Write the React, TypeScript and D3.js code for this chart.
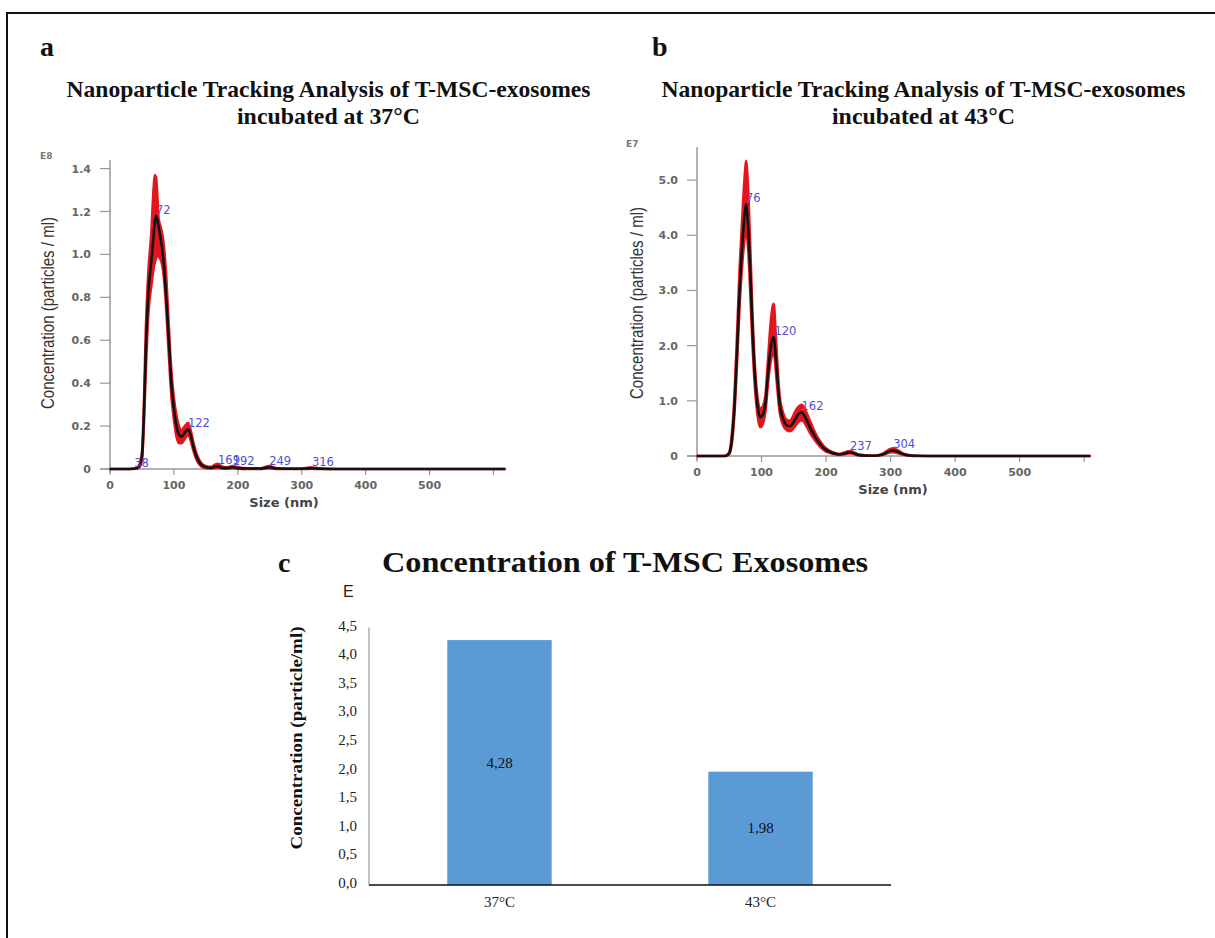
import React, { useEffect, useRef } from 'react';
import * as d3 from 'd3';

// panel a : 37°C  (values in E8 particles/ml)
const sizesA = [0, 30, 40, 45, 50, 53, 56, 60, 65, 68, 70, 72, 74, 76, 80, 84, 88, 92, 96, 100, 104, 108, 112, 117, 122, 126, 130, 135, 140, 148, 158, 164, 169, 175, 182, 192, 200, 215, 235, 249, 262, 290, 305, 316, 330, 360, 400, 618];
const meanA = [0, 0, 0.002, 0.01, 0.06, 0.25, 0.55, 0.82, 0.98, 1.08, 1.15, 1.18, 1.16, 1.13, 1.06, 0.96, 0.8, 0.6, 0.4, 0.28, 0.2, 0.16, 0.15, 0.17, 0.185, 0.16, 0.11, 0.06, 0.03, 0.01, 0.005, 0.01, 0.012, 0.006, 0.004, 0.008, 0.004, 0.002, 0.002, 0.008, 0.002, 0.001, 0.002, 0.004, 0.001, 0, 0, 0];
const upperA = [0, 0, 0.004, 0.015, 0.08, 0.3, 0.65, 0.92, 1.12, 1.3, 1.37, 1.36, 1.28, 1.17, 1.12, 1.05, 0.9, 0.67, 0.46, 0.33, 0.25, 0.2, 0.18, 0.2, 0.215, 0.185, 0.13, 0.075, 0.04, 0.016, 0.01, 0.02, 0.024, 0.012, 0.008, 0.014, 0.008, 0.004, 0.004, 0.014, 0.004, 0.002, 0.004, 0.007, 0.002, 0, 0, 0];
const lowerA = [0, 0, 0.001, 0.006, 0.04, 0.2, 0.45, 0.72, 0.86, 0.93, 0.96, 0.98, 1.0, 0.99, 0.97, 0.9, 0.74, 0.53, 0.34, 0.23, 0.15, 0.12, 0.12, 0.14, 0.16, 0.135, 0.09, 0.045, 0.02, 0.005, 0.002, 0.004, 0.005, 0.002, 0.001, 0.003, 0.001, 0, 0, 0.003, 0, 0, 0, 0.001, 0, 0, 0, 0];
const peaksA = [38, 72, 122, 169, 192, 249, 316];
const peakHeightsA = [0, 1.18, 0.185, 0.012, 0.008, 0.008, 0.004];
const yTicksA = [0, 0.2, 0.4, 0.6, 0.8, 1.0, 1.2, 1.4];

// panel b : 43°C  (values in E7 particles/ml)
const sizesB = [0, 40, 45, 50, 54, 58, 62, 66, 70, 74, 76, 79, 82, 86, 90, 94, 98, 102, 106, 110, 114, 117, 119, 122, 125, 128, 132, 136, 140, 144, 148, 152, 156, 160, 162, 166, 170, 175, 180, 185, 190, 195, 200, 205, 210, 215, 220, 225, 230, 237, 243, 250, 260, 270, 280, 288, 295, 300, 304, 310, 316, 322, 330, 340, 360, 400, 500, 609];
const meanB = [0, 0, 0.005, 0.05, 0.3, 0.9, 1.9, 3.0, 3.8, 4.4, 4.56, 4.2, 3.5, 2.3, 1.4, 0.9, 0.7, 0.75, 0.95, 1.5, 1.95, 2.12, 2.15, 1.8, 1.35, 0.95, 0.72, 0.6, 0.55, 0.54, 0.58, 0.66, 0.74, 0.78, 0.79, 0.74, 0.65, 0.52, 0.41, 0.31, 0.23, 0.16, 0.11, 0.08, 0.055, 0.04, 0.03, 0.035, 0.05, 0.07, 0.05, 0.02, 0.008, 0.005, 0.01, 0.03, 0.07, 0.095, 0.1, 0.08, 0.05, 0.025, 0.01, 0.004, 0.001, 0, 0, 0];
const upperB = [0, 0, 0.01, 0.07, 0.4, 1.1, 2.2, 3.4, 4.3, 5.1, 5.35, 4.9, 4.0, 2.6, 1.6, 1.05, 0.85, 0.9, 1.1, 1.75, 2.4, 2.7, 2.76, 2.2, 1.6, 1.1, 0.84, 0.7, 0.65, 0.64, 0.7, 0.8, 0.88, 0.92, 0.93, 0.88, 0.78, 0.64, 0.5, 0.38, 0.28, 0.2, 0.14, 0.1, 0.07, 0.05, 0.04, 0.05, 0.07, 0.09, 0.07, 0.03, 0.012, 0.008, 0.015, 0.045, 0.1, 0.13, 0.14, 0.11, 0.07, 0.035, 0.015, 0.006, 0.002, 0, 0, 0];
const lowerB = [0, 0, 0.002, 0.035, 0.22, 0.75, 1.65, 2.7, 3.45, 3.95, 4.05, 3.8, 3.1, 2.0, 1.2, 0.72, 0.52, 0.58, 0.8, 1.3, 1.7, 1.85, 1.88, 1.55, 1.15, 0.8, 0.6, 0.5, 0.46, 0.45, 0.48, 0.54, 0.6, 0.64, 0.65, 0.61, 0.53, 0.42, 0.33, 0.25, 0.18, 0.12, 0.08, 0.06, 0.04, 0.03, 0.02, 0.025, 0.035, 0.05, 0.035, 0.012, 0.005, 0.003, 0.006, 0.02, 0.05, 0.07, 0.07, 0.055, 0.035, 0.017, 0.006, 0.002, 0, 0, 0, 0];
const peaksB = [76, 120, 162, 237, 304];
const peakHeightsB = [4.56, 2.15, 0.79, 0.07, 0.1];
const yTicksB = [0, 1, 2, 3, 4, 5];

const xTicksNTA = [0, 100, 200, 300, 400, 500, 600];

// panel c
const barCategories = ['37°C', '43°C'];
const barValues = [4.28, 1.98];
const barTicks = [0, 0.5, 1, 1.5, 2, 2.5, 3, 3.5, 4, 4.5];

const commaFmt = (v: number, digits: number) => v.toFixed(digits).replace('.', ',');

type Panel = {
  left: number; bottom: number; width: number; height: number;
  xMax: number; yMax: number;
  sizes: number[]; mean: number[]; upper: number[]; lower: number[];
  peaks: number[]; peakHeights: number[]; yTicks: number[];
  exp: string; expX: number; expY: number;
  xTitleX: number; yTitleX: number; yTitleY: number;
};

function drawNTA(svg: d3.Selection<SVGSVGElement, unknown, null, undefined>, p: Panel) {
  const x = d3.scaleLinear().domain([0, p.xMax]).range([p.left, p.left + p.width]);
  const y = d3.scaleLinear().domain([0, p.yMax]).range([p.bottom, p.bottom - p.height]);
  const g = svg.append('g');
  const axisColor = '#9a9a9a';

  // axes
  g.append('line').attr('x1', p.left - 10).attr('x2', p.left + p.width)
    .attr('y1', p.bottom).attr('y2', p.bottom).attr('stroke', axisColor).attr('stroke-width', 1.5);
  g.append('line').attr('x1', p.left).attr('x2', p.left)
    .attr('y1', p.bottom - p.height).attr('y2', p.bottom + 4).attr('stroke', axisColor).attr('stroke-width', 1.5);

  g.selectAll('line.yt').data(p.yTicks).join('line')
    .attr('x1', p.left - 10).attr('x2', p.left)
    .attr('y1', d => y(d)).attr('y2', d => y(d))
    .attr('stroke', axisColor).attr('stroke-width', 1.2);
  g.selectAll('line.xt').data(xTicksNTA).join('line')
    .attr('x1', d => x(d)).attr('x2', d => x(d))
    .attr('y1', p.bottom).attr('y2', p.bottom + 6)
    .attr('stroke', axisColor).attr('stroke-width', 1.2);

  g.selectAll('text.yl').data(p.yTicks).join('text')
    .attr('x', p.left - 19).attr('y', d => y(d) + 4)
    .attr('text-anchor', 'end')
    .style('font-family', 'DejaVu Sans').style('font-size', '11px').style('font-weight', 'bold')
    .attr('fill', '#666')
    .text(d => (d === 0 ? '0' : d.toFixed(1)));
  g.selectAll('text.xl').data(xTicksNTA.slice(0, 6)).join('text')
    .attr('x', d => x(d)).attr('y', p.bottom + 20)
    .attr('text-anchor', 'middle')
    .style('font-family', 'DejaVu Sans').style('font-size', '11px').style('font-weight', 'bold')
    .attr('fill', '#666')
    .text(d => String(d));

  // band + mean
  const pts = p.sizes.map((s, i) => ({ s, m: p.mean[i], u: p.upper[i], l: p.lower[i] }));
  const band = d3.area<any>().x(d => x(d.s)).y0(d => y(d.l)).y1(d => y(d.u)).curve(d3.curveMonotoneX);
  g.append('path').attr('d', band(pts)!).attr('fill', '#e3161d')
    .attr('stroke', '#e3161d').attr('stroke-width', 2.5).attr('stroke-linejoin', 'round');
  const line = d3.line<any>().x(d => x(d.s)).y(d => y(d.m)).curve(d3.curveMonotoneX);
  g.append('path').attr('d', line(pts)!).attr('fill', 'none')
    .attr('stroke', '#111').attr('stroke-width', 2.6).attr('stroke-linejoin', 'round');

  // peak labels
  g.selectAll('text.pk').data(p.peaks).join('text')
    .attr('x', d => x(d)).attr('y', (d, i) => y(p.peakHeights[i]) - 2)
    .style('font-family', 'DejaVu Sans').style('font-size', '11.5px')
    .attr('fill', '#5050d0')
    .text(d => String(d));

  // labels
  g.append('text').attr('x', p.expX).attr('y', p.expY)
    .style('font-family', 'DejaVu Sans').style('font-size', '9px').style('font-weight', 'bold')
    .attr('fill', '#777').text(p.exp);
  g.append('text').attr('x', p.xTitleX).attr('y', p.bottom + 38)
    .attr('text-anchor', 'middle')
    .style('font-family', 'DejaVu Sans').style('font-size', '13px').style('font-weight', 'bold')
    .attr('fill', '#444').text('Size (nm)');
  g.append('text')
    .attr('transform', `translate(${p.yTitleX},${p.yTitleY}) rotate(-90)`)
    .attr('text-anchor', 'middle').attr('dy', 6)
    .attr('textLength', 192).attr('lengthAdjust', 'spacingAndGlyphs')
    .style('font-family', 'Liberation Sans').style('font-size', '19px')
    .attr('fill', '#333').text('Concentration (particles / ml)');
}

const App: React.FC = () => {
  const svgRef = useRef<SVGSVGElement>(null);

  useEffect(() => {
    document.body.style.margin = '0';
    const svg = d3.select(svgRef.current!);
    svg.selectAll('*').remove();

    const serif = 'Liberation Serif';

    // frame (top + left)
    svg.append('path').attr('d', 'M7,938 V13 H1215').attr('fill', 'none')
      .attr('stroke', '#111').attr('stroke-width', 2);

    // panel letters + titles
    const heading = (txt: string, x: number, yy: number, size: number, anchor = 'start', len?: number) => {
      const t = svg.append('text').attr('x', x).attr('y', yy).attr('text-anchor', anchor)
        .style('font-family', serif).style('font-weight', 'bold').style('font-size', `${size}px`)
        .attr('fill', '#111').text(txt);
      if (len) t.attr('textLength', len).attr('lengthAdjust', 'spacingAndGlyphs');
    };
    heading('a', 40, 56, 28);
    heading('b', 652, 56, 28);
    heading('Nanoparticle Tracking Analysis of T-MSC-exosomes', 328.5, 97, 23.5, 'middle', 524);
    heading('incubated at 37°C', 328.5, 124, 23.5, 'middle', 183);
    heading('Nanoparticle Tracking Analysis of T-MSC-exosomes', 923.5, 97, 23.5, 'middle', 524);
    heading('incubated at 43°C', 923.5, 124, 23.5, 'middle', 183);

    drawNTA(svg as any, {
      left: 110, bottom: 469, width: 395, height: 309, xMax: 618, yMax: 1.44,
      sizes: sizesA, mean: meanA, upper: upperA, lower: lowerA,
      peaks: peaksA, peakHeights: peakHeightsA, yTicks: yTicksA,
      exp: 'E8', expX: 40, expY: 159, xTitleX: 284, yTitleX: 48, yTitleY: 313,
    });
    drawNTA(svg as any, {
      left: 697, bottom: 456, width: 393, height: 309, xMax: 609, yMax: 5.6,
      sizes: sizesB, mean: meanB, upper: upperB, lower: lowerB,
      peaks: peaksB, peakHeights: peakHeightsB, yTicks: yTicksB,
      exp: 'E7', expX: 626, expY: 147, xTitleX: 893, yTitleX: 637, yTitleY: 303,
    });

    // panel c - bar chart
    heading('c', 278, 572, 28);
    heading('Concentration of T-MSC Exosomes', 625, 572, 30, 'middle', 486);
    svg.append('text').attr('x', 343).attr('y', 597)
      .style('font-family', 'Liberation Sans').style('font-size', '16px')
      .attr('fill', '#222').text('E');

    const xb = d3.scaleBand().domain(barCategories).range([369, 891]).paddingInner(0.6).paddingOuter(0.3);
    const yb = d3.scaleLinear().domain([0, 4.5]).range([885, 627.5]);
    const gc = svg.append('g');

    gc.selectAll('rect').data(barValues).join('rect')
      .attr('x', (d, i) => xb(barCategories[i])!)
      .attr('y', d => yb(d))
      .attr('width', xb.bandwidth())
      .attr('height', d => yb(0) - yb(d))
      .attr('fill', '#5b9bd5');

    gc.append('line').attr('x1', 369).attr('x2', 369).attr('y1', yb(4.5)).attr('y2', yb(0))
      .attr('stroke', '#888').attr('stroke-width', 1);
    gc.append('line').attr('x1', 369).attr('x2', 891).attr('y1', yb(0)).attr('y2', yb(0))
      .attr('stroke', '#111').attr('stroke-width', 1.5);

    gc.selectAll('text.yt').data(barTicks).join('text')
      .attr('x', 357).attr('y', d => yb(d) + 3)
      .attr('text-anchor', 'end')
      .style('font-family', serif).style('font-size', '15px')
      .attr('fill', '#222').text(d => commaFmt(d, 1));

    gc.selectAll('text.val').data(barValues).join('text')
      .attr('x', (d, i) => xb(barCategories[i])! + xb.bandwidth() / 2)
      .attr('y', d => (yb(d) + yb(0)) / 2 + 5)
      .attr('text-anchor', 'middle')
      .style('font-family', serif).style('font-size', '15px')
      .attr('fill', '#111').text(d => commaFmt(d, 2));

    gc.selectAll('text.cat').data(barCategories).join('text')
      .attr('x', d => xb(d)! + xb.bandwidth() / 2).attr('y', 907)
      .attr('text-anchor', 'middle')
      .style('font-family', serif).style('font-size', '15px')
      .attr('fill', '#222').text(d => d);

    gc.append('text')
      .attr('transform', 'translate(296,738) rotate(-90)')
      .attr('text-anchor', 'middle').attr('dy', 6)
      .attr('textLength', 223).attr('lengthAdjust', 'spacingAndGlyphs')
      .style('font-family', serif).style('font-size', '17px').style('font-weight', 'bold')
      .attr('fill', '#111').text('Concentration (particle/ml)');
  }, []);

  return <svg ref={svgRef} width={1215} height={938} style={{ display: 'block', background: '#fff' }} />;
};

export default App;
